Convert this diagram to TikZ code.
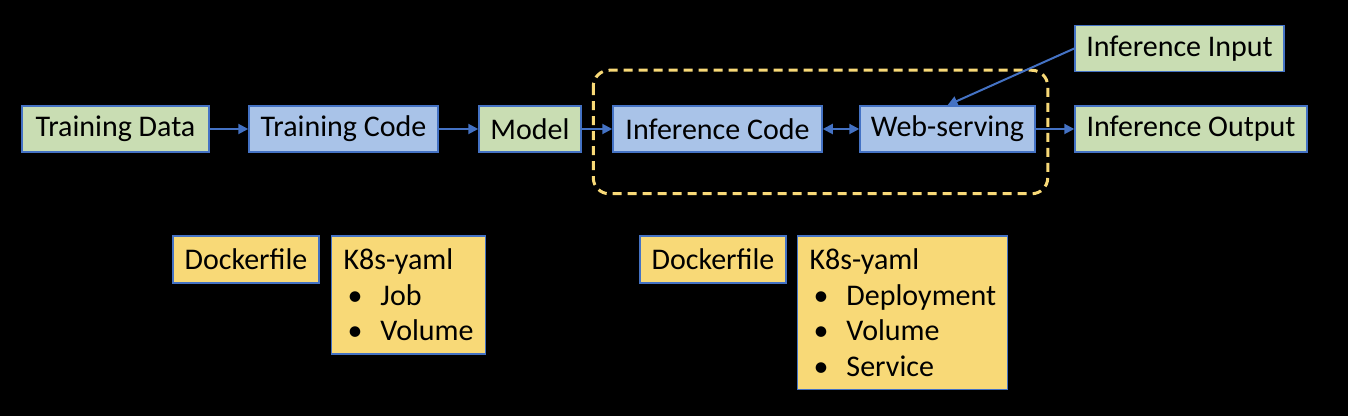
\documentclass[tikz,border=0pt]{standalone}
\usepackage{fontspec}
\setmainfont{Carlito}
\usetikzlibrary{positioning,calc,arrows.meta}
\definecolor{boxline}{HTML}{4472C4}
\definecolor{datagreen}{HTML}{C9DDB3}
\definecolor{procblue}{HTML}{A9C3E8}
\definecolor{noteyellow}{HTML}{F8D977}
\definecolor{groupyellow}{HTML}{F8D977}
\newcommand{\bitem}[1]{\makebox[18.5pt][l]{\hspace{2pt}\textbullet}#1}

\begin{document}
\begin{tikzpicture}[x=0.5pt,y=0.5pt,
     font=\fontsize{15}{17.75}\selectfont,
     box/.style = {draw=boxline, line width=0.75pt, minimum height=23pt, inner sep=0pt},
     data/.style = {box, fill=datagreen},
     proc/.style = {box, fill=procblue},
     note/.style = {box, fill=noteyellow, minimum height=23.5pt},
     yaml/.style = {draw=boxline, line width=0.75pt, fill=noteyellow, align=left,
      inner xsep=6pt, inner ysep=6.5pt},
     arrow/.style = {draw=boxline, line width=1pt, -{Triangle[length=5pt,width=5pt]}},
     group/.style = {draw=groupyellow, line width=1.5pt, dash pattern=on 4.5pt off 3pt,
      rounded corners=8pt}
    ]
    \fill[black] (0,0) rectangle (1348,-416);

    % training / inference pipeline
    \node [data, minimum width=93.5pt] (tdata) at (115.5,-129) {Training Data};
    \node [proc, minimum width=94.5pt, right=19.25pt of tdata] (tcode) {Training Code};
    \node [data, minimum width=51pt, right=19.75pt of tcode] (model) {Model};
    \node [proc, minimum width=104.5pt, right=15.25pt of model] (icode) {Inference Code};
    \node [proc, minimum width=87.5pt, right=18.25pt of icode] (web) {Web-serving};
    \node [data, minimum width=116pt, right=19.25pt of web] (iout) {Inference Output};
    \node [data, minimum width=104.5pt, above=16.5pt of iout.north west, anchor=south west] (iin) {Inference Input};

    \draw [group] ($(icode.north west)+(-19,35)$) rectangle ($(web.south east)+(12,-41)$);

    \draw [arrow] (tdata) -- (tcode);
    \draw [arrow] (tcode) -- (model);
    \draw [arrow] (model) -- (icode);
    \draw [arrow, {Triangle[length=5pt,width=5pt]}-{Triangle[length=5pt,width=5pt]}] (icode) -- (web);
    \draw [arrow] (web) -- (iout);
    \draw [arrow] (iin.west) -- (web.north);

    % deployment files
    \node [note, minimum width=73pt] (dock1) at (246,-259.5) {Dockerfile};
    \node [yaml, text width=65pt, right=5.5pt of dock1.north east, anchor=north west] (yaml1)
      {K8s-yaml\\\bitem{Job}\\\bitem{Volume}};
    \node [note, minimum width=73pt] (dock2) at (713,-259.5) {Dockerfile};
    \node [yaml, text width=93pt, right=5pt of dock2.north east, anchor=north west] (yaml2)
      {K8s-yaml\\\bitem{Deployment}\\\bitem{Volume}\\\bitem{Service}};
\end{tikzpicture}
\end{document}
